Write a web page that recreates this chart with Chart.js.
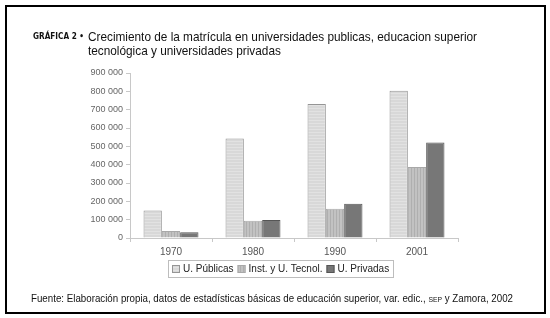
<!DOCTYPE html>
<html>
<head>
<meta charset="utf-8">
<script src="https://cdn.jsdelivr.net/npm/chart.js@4.4.1/dist/chart.umd.min.js"></script>
<style>
  html, body { margin: 0; padding: 0; background: #fff; }
  #wrap { position: relative; width: 550px; height: 318px; overflow: hidden; }
  #grafica { position: absolute; left: 0; top: 0; }
  #marco { position: absolute; left: 5px; top: 5px; width: 541px; height: 309px; box-sizing: border-box; border: 2px solid #000; }
  .txt { position: absolute; font-family: "Liberation Sans", Arial, sans-serif; color: #111; white-space: nowrap; transform-origin: 0 0; }
  #etiqueta { left: 33px; top: 31px; font-family: "DejaVu Sans", sans-serif; font-weight: bold; font-size: 8.5px; }
  #titulo { left: 88px; top: 30px; font-size: 13px; line-height: 14px; }
  #fuente { left: 31px; top: 293px; font-size: 10px; }
  .sc { font-size: 7px; }
</style>
</head>
<body>
<div id="wrap">
  <canvas id="grafica" width="550" height="318"></canvas>
  <div id="marco"></div>
  <div class="txt" id="etiqueta">GRÁFICA 2 •</div>
  <div class="txt" id="titulo"><span id="linea1">Crecimiento de la matrícula en universidades publicas, educacion superior</span><br>tecnológica y universidades privadas</div>
  <div class="txt" id="fuente">Fuente: Elaboración propia, datos de estadísticas básicas de educación superior, var. edic., <span class="sc">SEP</span> y Zamora, 2002</div>
</div>
<script>
// Datos
const anios = ['1970', '1980', '1990', '2001'];
const publicas = [150000, 543000, 731000, 803000];
const tecnologicas = [38000, 94000, 160000, 387000];
const privadas = [31000, 98000, 187000, 521000];
const series = ['U. Públicas', 'Inst. y U. Tecnol.', 'U. Privadas'];

// Comprimir textos al ancho del original (fuente estrecha no disponible)
function ajustar(id, medir, ancho) {
  const el = document.getElementById(id);
  const w = document.getElementById(medir).getBoundingClientRect().width;
  if (w > ancho) el.style.transform = 'scaleX(' + (ancho / w) + ')';
}
ajustar('titulo', 'linea1', 389);
ajustar('fuente', 'fuente', 482);
ajustar('etiqueta', 'etiqueta', 51);

// Tramas de relleno para imitar la impresión
function trama(fondo, linea, vertical) {
  const c = document.createElement('canvas');
  c.width = 3; c.height = 3;
  const g = c.getContext('2d');
  g.fillStyle = fondo;
  g.fillRect(0, 0, 3, 3);
  g.fillStyle = linea;
  if (vertical) g.fillRect(0, 0, 1, 3);
  else g.fillRect(0, 0, 3, 1);
  return g.createPattern(c, 'repeat');
}

const ctx = document.getElementById('grafica').getContext('2d');
const rellenoPublicas = trama('#d8d8d8', '#e2e2e2', false);
const rellenoTecnol = trama('#c2c2c2', '#afafaf', true);

function miles(v) {
  return String(v).replace(/\B(?=(\d{3})+(?!\d))/g, ' ');
}

// Leyenda con recuadro, dibujada a mano y centrada como en el original
const leyenda = {
  id: 'leyenda',
  afterDraw(chart) {
    const c = chart.ctx;
    c.save();
    c.font = '10px "Liberation Sans", Arial, sans-serif';
    const items = chart.data.datasets;
    let total = 4;
    items.forEach(ds => { total += 11 + c.measureText(ds.label).width + 4; });
    const w = Math.round(total), h = 17;
    const x0 = Math.round(280 - w / 2), y0 = 260;
    c.strokeStyle = '#bdbdbd';
    c.lineWidth = 1;
    c.strokeRect(x0 + 0.5, y0 + 0.5, w, h);
    c.textBaseline = 'middle';
    let x = x0 + 4;
    items.forEach(ds => {
      c.fillStyle = ds.backgroundColor;
      c.fillRect(x, y0 + 5, 8, 8);
      c.strokeStyle = ds.borderColor;
      c.strokeRect(x + 0.5, y0 + 5.5, 7, 7);
      c.fillStyle = '#222';
      c.fillText(ds.label, x + 11, y0 + 9.5);
      x += 11 + c.measureText(ds.label).width + 4;
    });
    c.restore();
  }
};

new Chart(ctx, {
  type: 'bar',
  data: {
    labels: anios,
    datasets: [
      { label: series[0], data: publicas, backgroundColor: rellenoPublicas, borderColor: '#959595', borderWidth: 1 },
      { label: series[1], data: tecnologicas, backgroundColor: rellenoTecnol, borderColor: '#a8a8a8', borderWidth: 1 },
      { label: series[2], data: privadas, backgroundColor: '#777777', borderColor: '#555555', borderWidth: 1 }
    ]
  },
  options: {
    responsive: false,
    animation: false,
    layout: { padding: { left: 80, right: 92, top: 73, bottom: 60 } },
    datasets: { bar: { categoryPercentage: 0.67, barPercentage: 1.0 } },
    plugins: {
      legend: { display: false },
      tooltip: { enabled: false }
    },
    scales: {
      x: {
        afterFit(s) { s.height = 20; },
        grid: { display: true, drawOnChartArea: false, offset: true, tickLength: 4, color: '#c8c8c8' },
        border: { color: '#c8c8c8' },
        ticks: { color: '#555', font: { family: 'Liberation Sans, Arial, sans-serif', size: 10 }, padding: 4 }
      },
      y: {
        min: 0,
        max: 900000,
        afterFit(s) { s.width = 50; },
        grid: { display: true, drawOnChartArea: false, tickLength: 4, color: '#c8c8c8' },
        border: { color: '#c8c8c8' },
        ticks: {
          stepSize: 100000,
          color: '#666',
          padding: 3,
          font: { family: 'Liberation Sans, Arial, sans-serif', size: 9 },
          callback: v => miles(v)
        }
      }
    }
  },
  plugins: [leyenda]
});
</script>
</body>
</html>
